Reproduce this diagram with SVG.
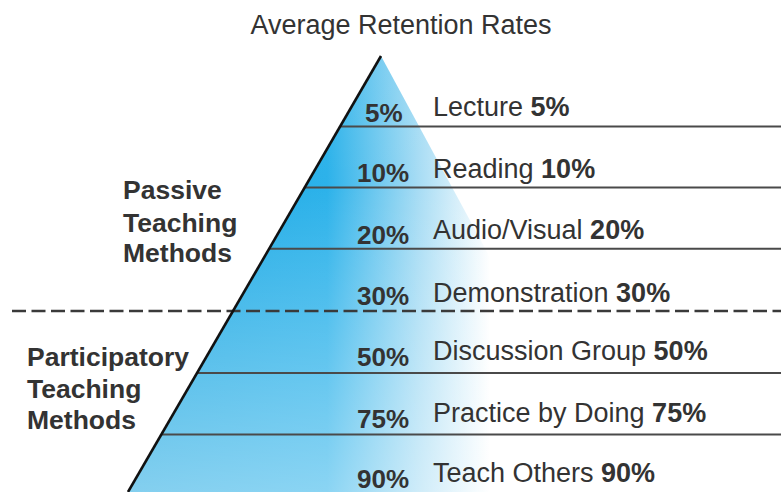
<svg xmlns="http://www.w3.org/2000/svg" width="781" height="492" viewBox="0 0 781 492">
  <defs>
    <linearGradient id="gH" gradientUnits="userSpaceOnUse" x1="128" y1="0" x2="490" y2="0">
      <stop offset="0" stop-color="#1ea8e2"/>
      <stop offset="0.55" stop-color="#2cb2ea"/>
      <stop offset="0.8" stop-color="#a6dcf4"/>
      <stop offset="1" stop-color="#ffffff"/>
    </linearGradient>
    <linearGradient id="gV" gradientUnits="userSpaceOnUse" x1="0" y1="57" x2="0" y2="492">
      <stop offset="0" stop-color="#ffffff" stop-opacity="0.05"/>
      <stop offset="0.3" stop-color="#ffffff" stop-opacity="0"/>
      <stop offset="1" stop-color="#ffffff" stop-opacity="0.45"/>
    </linearGradient>
    <style>
      .t { font-family: "Liberation Sans", Arial, sans-serif; fill: #333333; font-size: 27px; }
      .b { font-weight: bold; }
      .pct { font-family: "Liberation Sans", Arial, sans-serif; fill: #333333; font-size: 26px; font-weight: bold; }
      .side { font-family: "Liberation Sans", Arial, sans-serif; fill: #333333; font-size: 26.5px; font-weight: bold; }
      .div { stroke: #4a4a4a; stroke-width: 2; fill: none; }
      .dash { stroke: #3a3a3a; stroke-width: 2.5; stroke-dasharray: 14 5.5; fill: none; }
    </style>
  </defs>
  <rect width="781" height="492" fill="#ffffff"/>

  <g id="pyramid">
    <polygon points="381,56 617,492 128,492" fill="url(#gH)"/>
    <polygon points="381,56 617,492 128,492" fill="url(#gV)"/>
  </g>

  <g id="title">
    <text class="t" x="401" y="34" text-anchor="middle">Average Retention Rates</text>
  </g>

  <g id="connectors">
    <line class="div" x1="340.5" y1="126.5" x2="781" y2="126.5"/>
    <line class="div" x1="305" y1="187.5" x2="781" y2="187.5"/>
    <line class="div" x1="269.5" y1="248.7" x2="781" y2="248.7"/>
    <line class="dash" x1="12" y1="311" x2="781" y2="311"/>
    <line class="div" x1="197" y1="373" x2="781" y2="373"/>
    <line class="div" x1="161.5" y1="434.5" x2="781" y2="434.5"/>
    <line x1="381" y1="56" x2="128" y2="492" stroke="#111111" stroke-width="2.6"/>
  </g>

  <g id="passive">
    <text class="side" x="123" y="199">Passive</text>
    <text class="side" x="123" y="231.5">Teaching</text>
    <text class="side" x="123" y="262">Methods</text>
  </g>
  <g id="participatory">
    <text class="side" x="27" y="366">Participatory</text>
    <text class="side" x="27" y="398">Teaching</text>
    <text class="side" x="27" y="428.5">Methods</text>
  </g>

  <g id="lecture">
    <text class="pct" x="365" y="121.5">5%</text>
    <text class="t" x="433" y="116">Lecture <tspan class="b">5%</tspan></text>
  </g>
  <g id="reading">
    <text class="pct" x="357" y="182">10%</text>
    <text class="t" x="433" y="178">Reading <tspan class="b">10%</tspan></text>
  </g>
  <g id="audiovisual">
    <text class="pct" x="357" y="244">20%</text>
    <text class="t" x="433" y="239">Audio/Visual <tspan class="b">20%</tspan></text>
  </g>
  <g id="demonstration">
    <text class="pct" x="357" y="305">30%</text>
    <text class="t" x="433" y="301.5">Demonstration <tspan class="b">30%</tspan></text>
  </g>
  <g id="discussion">
    <text class="pct" x="357" y="366">50%</text>
    <text class="t" x="433" y="360">Discussion Group <tspan class="b">50%</tspan></text>
  </g>
  <g id="practice">
    <text class="pct" x="357" y="428">75%</text>
    <text class="t" x="433" y="421.5">Practice by Doing <tspan class="b">75%</tspan></text>
  </g>
  <g id="teach">
    <text class="pct" x="357" y="487.5">90%</text>
    <text class="t" x="433" y="482">Teach Others <tspan class="b">90%</tspan></text>
  </g>
</svg>
